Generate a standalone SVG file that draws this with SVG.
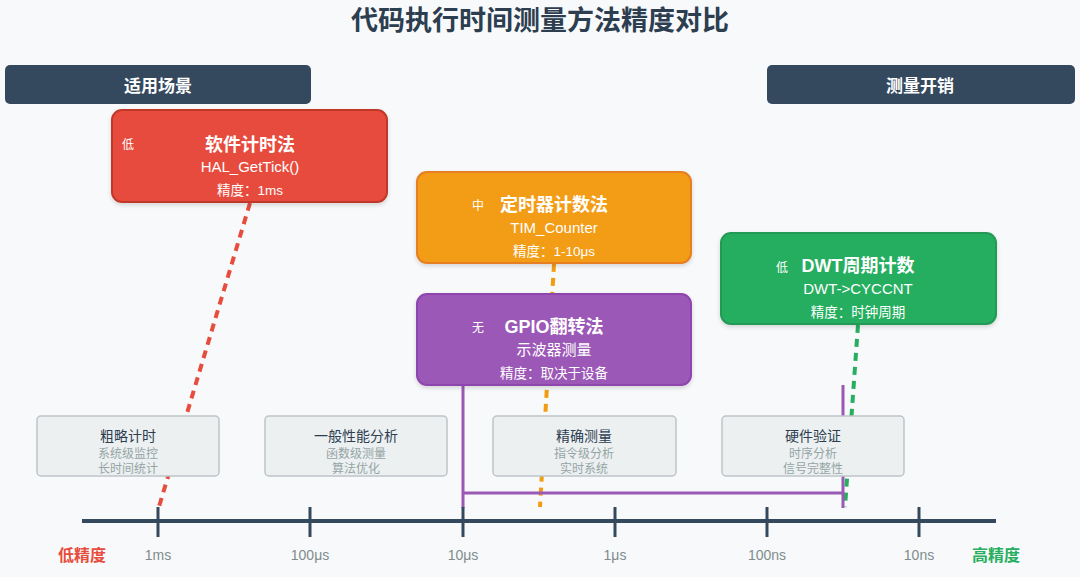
<svg xmlns="http://www.w3.org/2000/svg" width="1080" height="577" viewBox="0 0 1080 577">
  <defs>
    <style>
      .cjk { font-family: "Liberation Sans", "Noto Sans CJK SC", sans-serif; }
      .title { font-size: 27px; font-weight: bold; fill: #2c3e50; text-anchor: middle; }
      .hdr rect { fill: #34495e; }
      .hdr text { font-size: 17px; font-weight: bold; fill: #ffffff; text-anchor: middle; }
      .m text { fill: #ffffff; text-anchor: middle; }
      .m .t { font-size: 18px; font-weight: bold; }
      .m .s { font-size: 15px; }
      .m .p { font-size: 13.5px; }
      .m .c { font-size: 12px; }
      .m rect { stroke-width: 2; }
      .sc rect { fill: #ecf0f1; stroke: #bdc3c7; stroke-width: 1.5; }
      .sc text { text-anchor: middle; }
      .sc .t { font-size: 14px; fill: #2c3e50; }
      .sc .s { font-size: 12px; fill: #95a5a6; }
      .dash { fill: none; stroke-width: 4; stroke-dasharray: 8 6; }
      .axis line { stroke: #34495e; }
      .axis text { font-size: 14px; fill: #7f8c8d; text-anchor: middle; }
      .end { font-size: 16px; font-weight: bold; text-anchor: middle; }
    </style>
    <filter id="sh" x="-10%" y="-10%" width="120%" height="130%">
      <feDropShadow dx="0" dy="2" stdDeviation="2" flood-color="#000" flood-opacity="0.15"/>
    </filter>
  </defs>

  <rect x="0" y="0" width="1080" height="577" fill="#f7f9fa"/>

  <text class="cjk title" x="540" y="30">代码执行时间测量方法精度对比</text>

  <g id="hdr-scenario" class="hdr cjk">
    <rect x="5" y="65" width="306" height="39" rx="5"/>
    <text x="158" y="92">适用场景</text>
  </g>
  <g id="hdr-overhead" class="hdr cjk">
    <rect x="767" y="65" width="308" height="39" rx="5"/>
    <text x="920" y="92">测量开销</text>
  </g>

  <g id="connectors">
    <line class="dash" x1="250" y1="203" x2="158" y2="510" stroke="#e74c3c"/>
    <line class="dash" x1="554" y1="264" x2="540" y2="507" stroke="#f39c12"/>
    <line class="dash" x1="858" y1="325" x2="845" y2="507" stroke="#27ae60"/>
    <path d="M463,385 V508 M463,493 H843 M843,385 V508" fill="none" stroke="#9b59b6" stroke-width="3"/>
  </g>

  <g id="axis" class="axis cjk">
    <line x1="82" y1="521" x2="996" y2="521" stroke-width="4"/>
    <line x1="158" y1="507" x2="158" y2="537" stroke-width="3"/>
    <line x1="310" y1="507" x2="310" y2="537" stroke-width="3"/>
    <line x1="463" y1="507" x2="463" y2="537" stroke-width="3"/>
    <line x1="615" y1="507" x2="615" y2="537" stroke-width="3"/>
    <line x1="767" y1="507" x2="767" y2="537" stroke-width="3"/>
    <line x1="919" y1="507" x2="919" y2="537" stroke-width="3"/>
    <text x="158" y="560">1ms</text>
    <text x="310" y="560">100μs</text>
    <text x="463" y="560">10μs</text>
    <text x="615" y="560">1μs</text>
    <text x="767" y="560">100ns</text>
    <text x="919" y="560">10ns</text>
  </g>
  <text class="cjk end" x="82" y="561" fill="#e74c3c">低精度</text>
  <text class="cjk end" x="996" y="561" fill="#27ae60">高精度</text>

  <g id="sc-coarse" class="sc cjk">
    <rect x="37" y="416" width="182" height="60" rx="4"/>
    <text class="t" x="128" y="441">粗略计时</text>
    <text class="s" x="128" y="458">系统级监控</text>
    <text class="s" x="128" y="473">长时间统计</text>
  </g>
  <g id="sc-general" class="sc cjk">
    <rect x="265" y="416" width="182" height="60" rx="4"/>
    <text class="t" x="356" y="441">一般性能分析</text>
    <text class="s" x="356" y="458">函数级测量</text>
    <text class="s" x="356" y="473">算法优化</text>
  </g>
  <g id="sc-precise" class="sc cjk">
    <rect x="493" y="416" width="183" height="60" rx="4"/>
    <text class="t" x="584" y="441">精确测量</text>
    <text class="s" x="584" y="458">指令级分析</text>
    <text class="s" x="584" y="473">实时系统</text>
  </g>
  <g id="sc-hardware" class="sc cjk">
    <rect x="722" y="416" width="182" height="60" rx="4"/>
    <text class="t" x="813" y="441">硬件验证</text>
    <text class="s" x="813" y="458">时序分析</text>
    <text class="s" x="813" y="473">信号完整性</text>
  </g>

  <g id="m-software" class="m cjk">
    <rect x="112" y="110" width="275" height="92" rx="10" fill="#e74c3c" stroke="#c0392b" filter="url(#sh)"/>
    <text class="c" x="128" y="149">低</text>
    <text class="t" x="250" y="151">软件计时法</text>
    <text class="s" x="250" y="172">HAL_GetTick()</text>
    <text class="p" x="250" y="195">精度：1ms</text>
  </g>
  <g id="m-timer" class="m cjk">
    <rect x="417" y="172" width="274" height="91" rx="10" fill="#f39c12" stroke="#e67e22" filter="url(#sh)"/>
    <text class="c" x="478" y="210">中</text>
    <text class="t" x="554" y="211">定时器计数法</text>
    <text class="s" x="554" y="233">TIM_Counter</text>
    <text class="p" x="554" y="256">精度：1-10μs</text>
  </g>
  <g id="m-gpio" class="m cjk">
    <rect x="417" y="294" width="274" height="91" rx="10" fill="#9b59b6" stroke="#8e44ad" filter="url(#sh)"/>
    <text class="c" x="478" y="332">无</text>
    <text class="t" x="554" y="333">GPIO翻转法</text>
    <text class="s" x="554" y="355">示波器测量</text>
    <text class="p" x="554" y="378">精度：取决于设备</text>
  </g>
  <g id="m-dwt" class="m cjk">
    <rect x="721" y="233" width="275" height="91" rx="10" fill="#27ae60" stroke="#229954" filter="url(#sh)"/>
    <text class="c" x="782" y="272">低</text>
    <text class="t" x="858" y="272">DWT周期计数</text>
    <text class="s" x="858" y="294">DWT-&gt;CYCCNT</text>
    <text class="p" x="858" y="317">精度：时钟周期</text>
  </g>
</svg>
